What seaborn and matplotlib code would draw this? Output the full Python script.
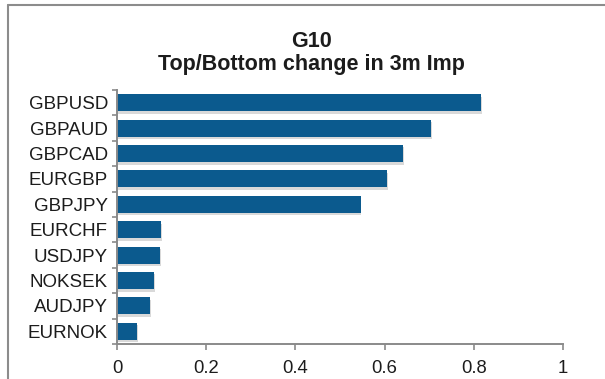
import matplotlib
matplotlib.use("Agg")
import matplotlib.pyplot as plt
import matplotlib.patheffects as pe
from matplotlib.lines import Line2D
import seaborn as sns
import pandas as pd
import numpy as np

# Currency pairs and their change in 3m implied volatility
pairs = ["GBPUSD", "GBPAUD", "GBPCAD", "EURGBP", "GBPJPY",
         "EURCHF", "USDJPY", "NOKSEK", "AUDJPY", "EURNOK"]
changes = [0.816, 0.704, 0.641, 0.606, 0.546,
           0.099, 0.096, 0.083, 0.074, 0.045]
x_ticks = [0, 0.2, 0.4, 0.6, 0.8, 1]
x_tick_labels = ["0", "0.2", "0.4", "0.6", "0.8", "1"]

sns.set_theme(style="white")
plt.rcParams["font.family"] = ["Liberation Sans", "DejaVu Sans"]

bar_color = "#0b5a8e"
axis_color = "#8a8a8a"
text_color = "#1c1c1c"

df = pd.DataFrame({"pair": pairs, "change": changes})

fig = plt.figure(figsize=(6.05, 3.79), dpi=100)
fig.patch.set_facecolor("white")
ax = fig.add_axes([117 / 605, 1 - 344 / 379, (563 - 117) / 605, (344 - 90) / 379])

sns.barplot(data=df, x="change", y="pair", order=pairs, color=bar_color,
            saturation=1, width=0.67, ax=ax)

for patch in ax.patches:
    patch.set_edgecolor("none")
    patch.set_path_effects([
        pe.SimplePatchShadow(offset=(0.6, -1.8), shadow_rgbFace="#a0a0a0", alpha=0.4),
        pe.Normal(),
    ])

ax.set_xlim(0, 1)
ax.set_ylim(len(pairs) - 0.5, -0.5)
ax.set_xlabel("")
ax.set_ylabel("")

ax.set_xticks(x_ticks)
ax.set_xticklabels(x_tick_labels)
ax.set_yticks(np.arange(len(pairs)))
ax.set_yticklabels(pairs)
ax.set_yticks(np.arange(len(pairs) + 1) - 0.5, minor=True)

ax.tick_params(axis="x", which="major", direction="out", length=4.2, width=1.2,
               color=axis_color, labelsize=13.3, labelcolor=text_color, pad=7,
               bottom=True)
ax.tick_params(axis="y", which="major", length=0, labelsize=13.5,
               labelcolor=text_color, pad=6.5)
ax.tick_params(axis="y", which="minor", direction="out", length=3.8, width=1.2,
               color=axis_color, left=True)

for side in ["top", "right"]:
    ax.spines[side].set_visible(False)
for side in ["left", "bottom"]:
    ax.spines[side].set_color(axis_color)
    ax.spines[side].set_linewidth(1.4)

# Chart frame along top and left edges
fig.add_artist(Line2D([8 / 605, 1.0], [1 - 4.8 / 379, 1 - 4.8 / 379],
                      transform=fig.transFigure, color="#8c8c8c", lw=1.5))
fig.add_artist(Line2D([8 / 605, 8 / 605], [0.0, 1 - 4.8 / 379],
                      transform=fig.transFigure, color="#8c8c8c", lw=1.5))

fig.text(311 / 605, 1 - 47 / 379, "G10", ha="center", va="baseline",
         fontsize=15.5, fontweight="bold", color=text_color)
fig.text(311 / 605, 1 - 70 / 379, "Top/Bottom change in 3m Imp", ha="center",
         va="baseline", fontsize=15.5, fontweight="bold", color=text_color)

fig.savefig("out.png", dpi=100, facecolor="white")
